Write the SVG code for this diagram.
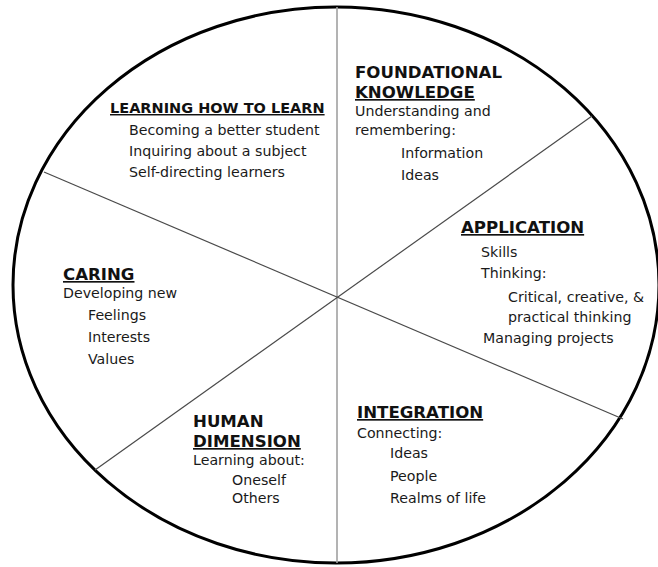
<svg xmlns="http://www.w3.org/2000/svg" width="658" height="567" viewBox="0 0 658 567">
<style>
text{font-family:"DejaVu Sans","Verdana",sans-serif;fill:#1a1a1a;font-size:14.2px}
.h{font-weight:bold;fill:#111;font-size:16.6px}
.u{text-decoration:underline}
.rim{fill:#fff;stroke:#000;stroke-width:3}
.div{stroke:#4a4a4a;stroke-width:1.2;fill:none}
.vert{stroke:#a0a0a0;stroke-width:1.6;fill:none}
</style>
<rect width="658" height="567" fill="#fff"/>
<ellipse id="wheel" class="rim" cx="336" cy="285" rx="323" ry="278"/>
<g id="connectors">
<line class="vert" x1="337" y1="7" x2="337" y2="563"/>
<line class="div" x1="44" y1="172" x2="623" y2="419"/>
<line class="div" x1="592" y1="116" x2="95" y2="470"/>
</g>
<g id="learning-how-to-learn">
<text class="h u" x="110" y="113" style="font-size:14.5px">LEARNING HOW TO LEARN</text>
<text x="129" y="135">Becoming a better student</text>
<text x="129" y="156">Inquiring about a subject</text>
<text x="129" y="177">Self-directing learners</text>
</g>
<g id="foundational-knowledge">
<text class="h" x="355" y="78">FOUNDATIONAL</text>
<text class="h u" x="355" y="98">KNOWLEDGE</text>
<text x="355" y="116">Understanding and</text>
<text x="355" y="135">remembering:</text>
<text x="401" y="158">Information</text>
<text x="401" y="180">Ideas</text>
</g>
<g id="application">
<text class="h u" x="461" y="233">APPLICATION</text>
<text x="481" y="257">Skills</text>
<text x="481" y="278">Thinking:</text>
<text x="508" y="302">Critical, creative, &amp;</text>
<text x="508" y="322">practical thinking</text>
<text x="483" y="343">Managing projects</text>
</g>
<g id="integration">
<text class="h u" x="357" y="418">INTEGRATION</text>
<text x="357" y="438">Connecting:</text>
<text x="390" y="458">Ideas</text>
<text x="390" y="481">People</text>
<text x="390" y="503">Realms of life</text>
</g>
<g id="human-dimension">
<text class="h" x="193" y="427">HUMAN</text>
<text class="h u" x="193" y="447">DIMENSION</text>
<text x="193" y="465">Learning about:</text>
<text x="232" y="485">Oneself</text>
<text x="232" y="503">Others</text>
</g>
<g id="caring">
<text class="h u" x="63" y="280">CARING</text>
<text x="63" y="298">Developing new</text>
<text x="88" y="320">Feelings</text>
<text x="88" y="342">Interests</text>
<text x="88" y="364">Values</text>
</g>
</svg>
